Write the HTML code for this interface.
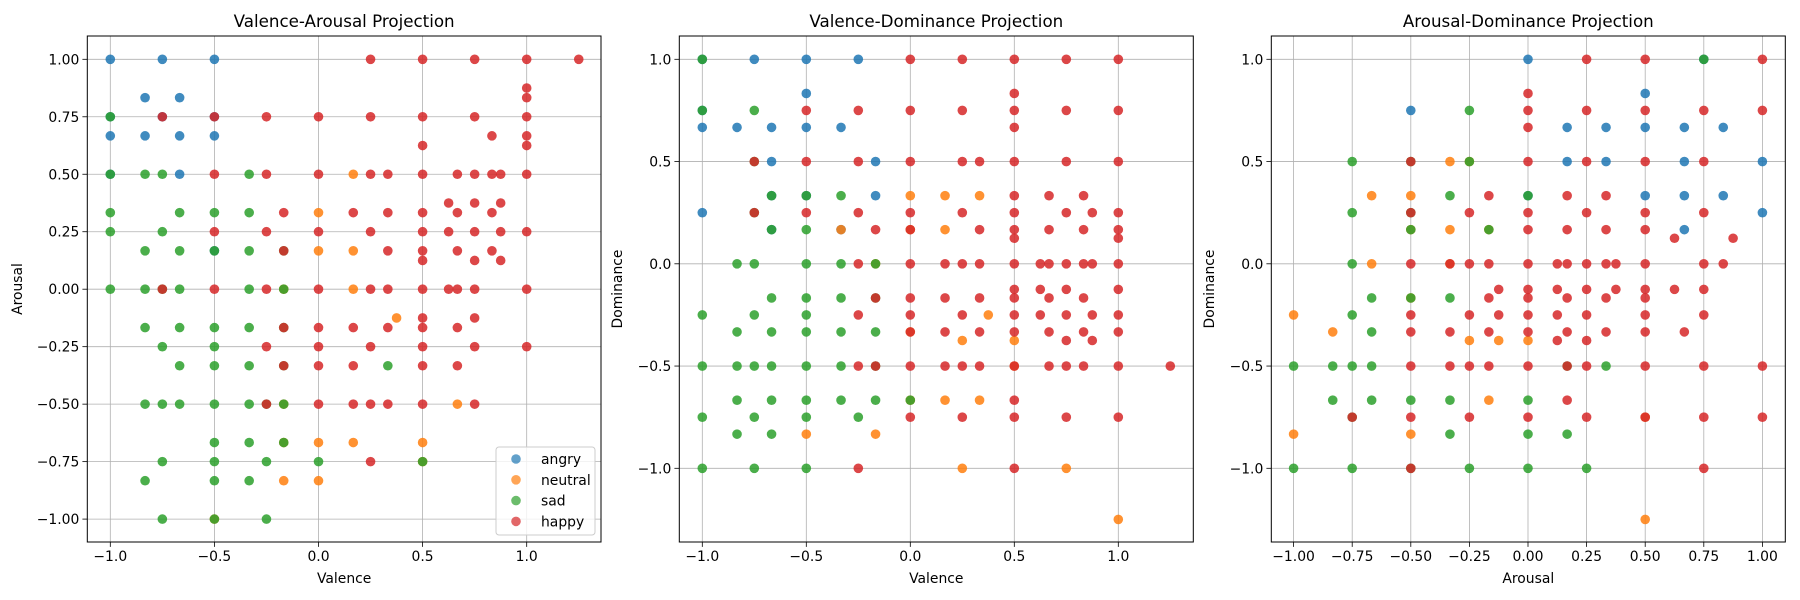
<!DOCTYPE html>
<html><head><meta charset="utf-8"><style>
html,body{margin:0;padding:0;background:#fff;}
svg{display:block;font-family:"DejaVu Sans","Liberation Sans",sans-serif;}
</style></head><body>
<svg id="fig" width="1800" height="600" viewBox="0 0 1800 600" xmlns="http://www.w3.org/2000/svg"></svg>
<script>
// ---- Data: Valence-Arousal ----
const vaAngry=[[-1,1],[-0.75,1],[-0.5,1],[-0.833,0.833],[-0.667,0.833],[-1,0.75],[-0.75,0.75],[-0.5,0.75],[-1,0.667],[-0.833,0.667],[-0.667,0.667],[-0.5,0.667],[-1,0.5],[-0.667,0.5],[-0.5,0.167]];
const vaNeutral=[[0.167,0.5],[0,0.333],[0,0.167],[0.167,0.167],[0.167,0],[0.375,-0.125],[-0.167,-0.5],[0.667,-0.5],[0,-0.667],[0.167,-0.667],[0.5,-0.667],[-0.167,-0.833],[0,-0.833],[-0.167,0],[-0.5,-1],[-0.167,-0.667],[0.5,-0.75]];
const vaSad=[[-1,0.75],[-1,0.5],[-0.833,0.5],[-0.75,0.5],[-0.333,0.5],[-1,0.333],[-0.667,0.333],[-0.5,0.333],[-0.333,0.333],[-1,0.25],[-0.75,0.25],[-0.833,0.167],[-0.667,0.167],[-0.5,0.167],[-0.333,0.167],[-0.167,0.167],[-1,0],[-0.833,0],[-0.75,0],[-0.667,0],[-0.333,0],[-0.167,0],[-0.833,-0.167],[-0.667,-0.167],[-0.5,-0.167],[-0.333,-0.167],[-0.167,-0.167],[-0.75,-0.25],[-0.5,-0.25],[-0.667,-0.333],[-0.5,-0.333],[-0.333,-0.333],[-0.167,-0.333],[0.333,-0.333],[-0.833,-0.5],[-0.75,-0.5],[-0.667,-0.5],[-0.5,-0.5],[-0.333,-0.5],[-0.25,-0.5],[-0.167,-0.5],[-0.5,-0.667],[-0.333,-0.667],[-0.167,-0.667],[-0.75,-0.75],[-0.5,-0.75],[-0.25,-0.75],[0,-0.75],[0.5,-0.75],[-0.833,-0.833],[-0.5,-0.833],[-0.333,-0.833],[-0.75,-1],[-0.5,-1],[-0.25,-1]];
const vaHappy=[[0.25,1],[0.5,1],[0.75,1],[1,1],[1.25,1],[1,0.875],[1,0.833],[-0.75,0.75],[-0.5,0.75],[-0.25,0.75],[0,0.75],[0.25,0.75],[0.5,0.75],[0.75,0.75],[1,0.75],[0.833,0.667],[1,0.667],[0.5,0.625],[1,0.625],[-0.5,0.5],[-0.25,0.5],[0,0.5],[0.25,0.5],[0.333,0.5],[0.5,0.5],[0.667,0.5],[0.75,0.5],[0.833,0.5],[0.875,0.5],[1,0.5],[0.625,0.375],[0.75,0.375],[0.875,0.375],[-0.167,0.333],[0.167,0.333],[0.333,0.333],[0.5,0.333],[0.667,0.333],[0.833,0.333],[-0.5,0.25],[-0.25,0.25],[0,0.25],[0.25,0.25],[0.5,0.25],[0.625,0.25],[0.75,0.25],[0.875,0.25],[1,0.25],[-0.167,0.167],[0.333,0.167],[0.5,0.167],[0.667,0.167],[0.833,0.167],[0.5,0.125],[0.75,0.125],[0.875,0.125],[-0.75,0],[-0.5,0],[-0.25,0],[0,0],[0.25,0],[0.333,0],[0.5,0],[0.625,0],[0.667,0],[0.75,0],[1,0],[0.5,-0.125],[0.75,-0.125],[-0.167,-0.167],[0,-0.167],[0.167,-0.167],[0.333,-0.167],[0.5,-0.167],[0.667,-0.167],[-0.25,-0.25],[0,-0.25],[0.25,-0.25],[0.5,-0.25],[0.75,-0.25],[1,-0.25],[-0.167,-0.333],[0,-0.333],[0.167,-0.333],[0.5,-0.333],[0.667,-0.333],[-0.25,-0.5],[0,-0.5],[0.167,-0.5],[0.25,-0.5],[0.333,-0.5],[0.5,-0.5],[0.75,-0.5],[0.25,-0.75]];
// ---- Data: Valence-Dominance ----
const vdAngry=[[-1,1],[-0.75,1],[-0.5,1],[-0.25,1],[-0.5,0.833],[-1,0.75],[-1,0.667],[-0.833,0.667],[-0.667,0.667],[-0.5,0.667],[-0.333,0.667],[-0.667,0.5],[-0.167,0.5],[-0.167,0.333],[-0.667,0.333],[-0.5,0.333],[-1,0.25],[-0.333,0.167],[-0.667,0.167]];
const vdNeutral=[[0,0.333],[0.167,0.333],[0.333,0.333],[-0.333,0.167],[0,0.167],[0.167,0.167],[-0.167,0],[0.375,-0.25],[0,-0.333],[0.25,-0.375],[0.5,-0.375],[0.167,-0.667],[0.333,-0.667],[0,-0.667],[-0.5,-0.833],[-0.167,-0.833],[0.25,-1],[0.75,-1],[1,-1.25],[0.5,-0.5]];
const vdSad=[[-1,1],[-1,0.75],[-0.75,0.75],[-0.75,0.5],[-0.667,0.333],[-0.5,0.333],[-0.333,0.333],[-0.75,0.25],[-0.667,0.167],[-0.5,0.167],[-0.833,0],[-0.75,0],[-0.5,0],[-0.333,0],[-0.167,0],[-0.667,-0.167],[-0.5,-0.167],[-0.333,-0.167],[-0.167,-0.167],[-1,-0.25],[-0.75,-0.25],[-0.5,-0.25],[-0.833,-0.333],[-0.667,-0.333],[-0.5,-0.333],[-0.333,-0.333],[-0.167,-0.333],[-1,-0.5],[-0.833,-0.5],[-0.75,-0.5],[-0.667,-0.5],[-0.5,-0.5],[-0.333,-0.5],[-0.167,-0.5],[-0.833,-0.667],[-0.667,-0.667],[-0.5,-0.667],[-0.333,-0.667],[-0.167,-0.667],[0,-0.667],[-1,-0.75],[-0.75,-0.75],[-0.5,-0.75],[-0.25,-0.75],[-0.833,-0.833],[-0.667,-0.833],[-1,-1],[-0.75,-1],[-0.5,-1]];
const vdHappy=[[0,1],[0.25,1],[0.5,1],[0.75,1],[1,1],[0.5,0.833],[-0.5,0.75],[-0.25,0.75],[0,0.75],[0.25,0.75],[0.5,0.75],[0.75,0.75],[1,0.75],[0.5,0.667],[-0.75,0.5],[-0.5,0.5],[-0.25,0.5],[0,0.5],[0.25,0.5],[0.333,0.5],[0.5,0.5],[0.75,0.5],[1,0.5],[0.5,0.333],[0.667,0.333],[0.833,0.333],[-0.75,0.25],[-0.5,0.25],[-0.25,0.25],[0,0.25],[0.25,0.25],[0.5,0.25],[0.75,0.25],[0.875,0.25],[1,0.25],[-0.167,0.167],[0,0.167],[0.333,0.167],[0.5,0.167],[0.667,0.167],[0.833,0.167],[1,0.167],[0.5,0.125],[1,0.125],[-0.25,0],[0,0],[0.167,0],[0.25,0],[0.333,0],[0.5,0],[0.625,0],[0.667,0],[0.75,0],[0.833,0],[0.875,0],[1,0],[0.5,-0.125],[0.625,-0.125],[0.75,-0.125],[1,-0.125],[-0.167,-0.167],[0,-0.167],[0.167,-0.167],[0.333,-0.167],[0.5,-0.167],[0.667,-0.167],[0.833,-0.167],[-0.25,-0.25],[0,-0.25],[0.25,-0.25],[0.5,-0.25],[0.625,-0.25],[0.75,-0.25],[0.875,-0.25],[1,-0.25],[0,-0.333],[0.167,-0.333],[0.333,-0.333],[0.5,-0.333],[0.667,-0.333],[0.833,-0.333],[1,-0.333],[0.75,-0.375],[0.875,-0.375],[-0.25,-0.5],[-0.167,-0.5],[0,-0.5],[0.167,-0.5],[0.25,-0.5],[0.333,-0.5],[0.5,-0.5],[0.667,-0.5],[0.75,-0.5],[0.833,-0.5],[1,-0.5],[1.25,-0.5],[0.5,-0.667],[0,-0.75],[0.25,-0.75],[0.5,-0.75],[0.75,-0.75],[1,-0.75],[-0.25,-1],[0.5,-1]];
// ---- Data: Arousal-Dominance ----
const adAngry=[[0,1],[0.5,0.833],[0.167,0.667],[0.333,0.667],[0.5,0.667],[0.667,0.667],[0.833,0.667],[0.167,0.5],[0.333,0.5],[0.667,0.5],[1,0.5],[0.5,0.333],[0.833,0.333],[0.667,0.333],[-0.5,0.75],[1,0.25],[0.667,0.167],[0,0.333],[0.75,1]];
const adNeutral=[[-0.333,0.5],[-0.667,0.333],[-0.5,0.333],[-0.333,0.167],[-0.5,0.167],[-0.667,0],[-0.5,-0.167],[-0.333,0],[-1,-0.25],[-0.833,-0.333],[-0.25,-0.375],[-0.125,-0.375],[0,-0.375],[-0.167,-0.667],[-1,-0.833],[-0.5,-0.833],[0.5,-1.25],[-0.25,0.5],[-0.167,0.167],[0.5,-0.75]];
const adSad=[[0.75,1],[-0.25,0.75],[-0.75,0.5],[-0.5,0.5],[-0.25,0.5],[-0.333,0.333],[0,0.333],[-0.75,0.25],[-0.5,0.25],[-0.5,0.167],[-0.167,0.167],[-0.75,0],[-0.667,-0.167],[-0.5,-0.167],[-0.333,-0.167],[-0.75,-0.25],[-0.667,-0.333],[-1,-0.5],[-0.833,-0.5],[-0.75,-0.5],[-0.667,-0.5],[0.333,-0.5],[0.167,-0.5],[-0.833,-0.667],[-0.667,-0.667],[-0.5,-0.667],[-0.333,-0.667],[0,-0.667],[-0.75,-0.75],[0,-0.833],[-0.333,-0.833],[0.167,-0.833],[-1,-1],[-0.75,-1],[-0.5,-1],[-0.25,-1],[0,-1],[0.25,-1]];
const adHappy=[[0.25,1],[0.5,1],[1,1],[0,0.833],[0,0.75],[0.25,0.75],[0.5,0.75],[0.75,0.75],[1,0.75],[0,0.667],[-0.5,0.5],[0,0.5],[0.25,0.5],[0.5,0.5],[0.75,0.5],[-0.167,0.333],[0.167,0.333],[0.333,0.333],[-0.5,0.25],[-0.25,0.25],[0,0.25],[0.25,0.25],[0.5,0.25],[0.75,0.25],[0,0.167],[0.167,0.167],[0.333,0.167],[0.5,0.167],[0.625,0.125],[0.875,0.125],[-0.5,0],[-0.333,0],[-0.25,0],[-0.167,0],[0,0],[0.125,0],[0.167,0],[0.25,0],[0.333,0],[0.375,0],[0.5,0],[0.75,0],[0.833,0],[-0.125,-0.125],[0,-0.125],[0.125,-0.125],[0.25,-0.125],[0.375,-0.125],[0.5,-0.125],[0.625,-0.125],[0.75,-0.125],[-0.167,-0.167],[0,-0.167],[0.167,-0.167],[0.333,-0.167],[0.5,-0.167],[-0.5,-0.25],[-0.25,-0.25],[-0.125,-0.25],[0,-0.25],[0.125,-0.25],[0.25,-0.25],[0.5,-0.25],[0.75,-0.25],[-0.5,-0.333],[-0.333,-0.333],[-0.167,-0.333],[0,-0.333],[0.167,-0.333],[0.333,-0.333],[0.5,-0.333],[0.667,-0.333],[0.125,-0.375],[0.25,-0.375],[-0.5,-0.5],[-0.333,-0.5],[-0.25,-0.5],[-0.167,-0.5],[0,-0.5],[0.167,-0.5],[0.25,-0.5],[0.5,-0.5],[0.75,-0.5],[1,-0.5],[0.167,-0.667],[-0.75,-0.75],[-0.5,-0.75],[-0.25,-0.75],[0,-0.75],[0.25,-0.75],[0.5,-0.75],[0.75,-0.75],[1,-0.75],[0.75,-1],[-0.5,-1]];
const categories=["angry","neutral","sad","happy"];
const colors=["#1f77b4","#ff7f0e","#2ca02c","#d62728"];
const xTicks1=[-1.0,-0.5,0.0,0.5,1.0];
const yTicks1=[-1.0,-0.75,-0.5,-0.25,0,0.25,0.5,0.75,1.0];
const xTicks2=[-1.0,-0.5,0.0,0.5,1.0];
const yTicks2=[-1.0,-0.5,0.0,0.5,1.0];
const xTicks3=[-1.0,-0.75,-0.5,-0.25,0,0.25,0.5,0.75,1.0];
const yTicks3=[-1.0,-0.5,0.0,0.5,1.0];

const NS="http://www.w3.org/2000/svg";
const svg=document.getElementById("fig");
function mk(tag,attrs,parent){const e=document.createElementNS(NS,tag);for(const k in attrs)e.setAttribute(k,attrs[k]);(parent||svg).appendChild(e);return e;}
function fmt(v,d){let s=v.toFixed(d);if(s.startsWith("-"))s="\u2212"+s.slice(1);if(s==="\u22120.0"||s==="\u22120.00")s=s.slice(1);return s;}

const panels=[
 {key:"valence-arousal",title:"Valence-Arousal Projection",xl:"Valence",yl:"Arousal",L:87.3,R:601,x0:318.5,xs:208.2,y0:289.2,ys:229.9,xt:xTicks1,yt:yTicks1,xd:1,yd:2,ylx:22,data:[vaAngry,vaNeutral,vaSad,vaHappy],legend:true},
 {key:"valence-dominance",title:"Valence-Dominance Projection",xl:"Valence",yl:"Dominance",L:679.3,R:1193.3,x0:910.3,xs:208,y0:263.8,ys:204.5,xt:xTicks2,yt:yTicks2,xd:1,yd:1,ylx:622,data:[vdAngry,vdNeutral,vdSad,vdHappy]},
 {key:"arousal-dominance",title:"Arousal-Dominance Projection",xl:"Arousal",yl:"Dominance",L:1271.3,R:1785.3,x0:1528,xs:234.4,y0:263.8,ys:204.5,xt:xTicks3,yt:yTicks3,xd:2,yd:1,ylx:1214,data:[adAngry,adNeutral,adSad,adHappy]}
];
const T=36,B=542;
panels.forEach(p=>{
 const g=mk("g",{});
 
 
 const X=v=>p.x0+v*p.xs, Y=v=>p.y0-v*p.ys;
 const cid="clip-"+p.key;
 const cp=mk("clipPath",{id:cid},g);mk("rect",{x:p.L,y:T,width:p.R-p.L,height:B-T},cp);
 const grid=mk("g",{stroke:"#b0b0b0","stroke-width":0.8},g);
 
 
 p.xt.forEach(v=>{mk("line",{x1:X(v),x2:X(v),y1:T,y2:B},grid);});
 p.yt.forEach(v=>{mk("line",{x1:p.L,x2:p.R,y1:Y(v),y2:Y(v)},grid);});
 const pts=mk("g",{"clip-path":"url(#"+cid+")"},g);
 p.data.forEach((arr,ci)=>{
  const sg=mk("g",{fill:colors[ci],"fill-opacity":0.85},pts);
  
  
  arr.forEach(d=>{
   const c=mk("circle",{cx:X(d[0]),cy:Y(d[1]),r:4.8},sg);
   
   
  });
 });
 const ax=mk("g",{fill:"#000","font-size":"13.9px"},g);
 
 
 p.xt.forEach(v=>{
  mk("line",{x1:X(v),x2:X(v),y1:B,y2:B+4.9,stroke:"#000","stroke-width":0.8},ax);
  const t=mk("text",{x:X(v),y:B+19,"text-anchor":"middle"},ax);t.textContent=fmt(v,p.xd);
  
  
 });
 p.yt.forEach(v=>{
  mk("line",{x1:p.L-4.9,x2:p.L,y1:Y(v),y2:Y(v),stroke:"#000","stroke-width":0.8},ax);
  const t=mk("text",{x:p.L-8,y:Y(v)+5,"text-anchor":"end"},ax);t.textContent=fmt(v,p.yd);
  
  
 });
 mk("rect",{x:p.L,y:T,width:p.R-p.L,height:B-T,fill:"none",stroke:"#000","stroke-width":1},g);
 const tt=mk("text",{x:(p.L+p.R)/2,y:27,"text-anchor":"middle","font-size":"16.7px"},g);tt.textContent=p.title;
 
 
 const xl=mk("text",{x:(p.L+p.R)/2,y:583,"text-anchor":"middle","font-size":"13.9px"},g);xl.textContent=p.xl;
 
 
 const ym=(T+B)/2;
 const yl=mk("text",{x:p.ylx,y:ym,"text-anchor":"middle","font-size":"13.9px",transform:"rotate(-90 "+p.ylx+" "+ym+")"},g);yl.textContent=p.yl;
 
 
 if(p.legend){
  const lg=mk("g",{},g);
  
  
  mk("rect",{x:496,y:447,width:99,height:88,rx:3,fill:"#fff","fill-opacity":0.8,stroke:"#cccccc","stroke-width":1},lg);
  categories.forEach((c,i)=>{
   const yy=459+i*20.8;
   mk("circle",{cx:516,cy:yy,r:4.8,fill:colors[i],"fill-opacity":0.7},lg);
   const t=mk("text",{x:541,y:yy+5,"font-size":"13.9px"},lg);t.textContent=c;
   
   
  });
 }
});
</script>
</body></html>
